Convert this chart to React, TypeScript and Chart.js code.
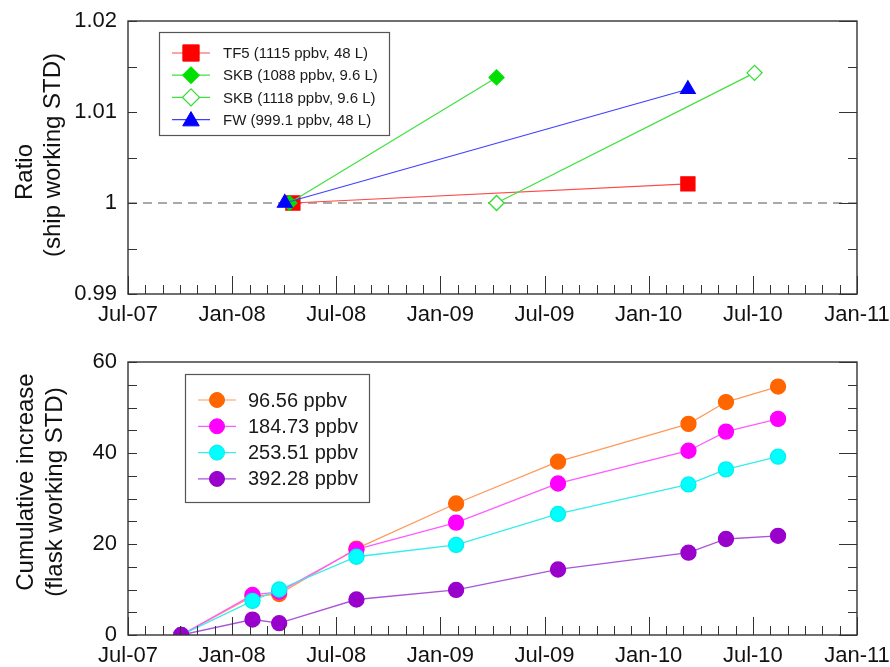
import React, { useEffect, useRef } from 'react';
import { Chart, registerables } from 'chart.js';

Chart.register(...registerables);

// ---------- data ----------
const xTickLabels = ['Jul-07', 'Jan-08', 'Jul-08', 'Jan-09', 'Jul-09', 'Jan-10', 'Jul-10', 'Jan-11'];
const xStartYear = 2007;
const xStartMonth = 7;
const xSpanMonths = 42;

const ratioTickLabels = ['0.99', '1', '1.01', '1.02'];
const ratioMin = 0.99;
const ratioMax = 1.02;
const refRatio = 1.0;

const cumTickLabels = ['0', '20', '40', '60'];
const cumMin = 0;
const cumMax = 60;

const tf5Label = 'TF5 (1115 ppbv, 48 L)';
const tf5Dates = ['2008-04-16', '2010-03-09'];
const tf5Ratio = [1.0, 1.0021];

const skb1088Label = 'SKB (1088 ppbv, 9.6 L)';
const skb1088Dates = ['2008-04-10', '2009-04-08'];
const skb1088Ratio = [1.0, 1.0138];

const skb1118Label = 'SKB (1118 ppbv, 9.6 L)';
const skb1118Dates = ['2009-04-08', '2010-07-04'];
const skb1118Ratio = [1.0, 1.0143];

const fwLabel = 'FW (999.1 ppbv, 48 L)';
const fwDates = ['2008-04-02', '2010-03-09'];
const fwRatio = [1.0, 1.0125];

const flaskDates = ['2007-10-03', '2008-02-06', '2008-03-23', '2008-08-06', '2009-01-29', '2009-07-25', '2010-03-10', '2010-05-15', '2010-08-15'];
const c96Label = '96.56 ppbv';
const c96 = [0, 8.5, 9.0, 19.0, 28.9, 38.1, 46.4, 51.2, 54.6];
const c184Label = '184.73 ppbv';
const c184 = [0, 8.8, 9.5, 18.8, 24.7, 33.3, 40.5, 44.7, 47.5];
const c253Label = '253.51 ppbv';
const c253 = [0, 7.5, 10.0, 17.2, 19.8, 26.6, 33.1, 36.4, 39.2];
const c392Label = '392.28 ppbv';
const c392 = [0, 3.4, 2.6, 7.8, 9.9, 14.4, 18.1, 21.1, 21.8];

// ---------- helpers ----------
function toMonths(s: string): number {
  const [y, m, d] = s.split('-').map(Number);
  const dim = new Date(y, m, 0).getDate();
  return (y - xStartYear) * 12 + (m - xStartMonth) + (d - 1) / dim;
}
function pts(dates: string[], vals: number[]) {
  return dates.map((d, i) => ({ x: toMonths(d), y: vals[i] }));
}

const FONT = '"Liberation Sans", Arial, sans-serif';

function markerPath(ctx: CanvasRenderingContext2D, style: string, x: number, y: number, r: number) {
  ctx.beginPath();
  if (style === 'rect') {
    const s = r * Math.SQRT1_2;
    ctx.rect(x - s, y - s, 2 * s, 2 * s);
  } else if (style === 'rectRot') {
    ctx.moveTo(x - r, y);
    ctx.lineTo(x, y - r);
    ctx.lineTo(x + r, y);
    ctx.lineTo(x, y + r);
    ctx.closePath();
  } else if (style === 'triangle') {
    const a = (2 * Math.PI) / 3;
    ctx.moveTo(x, y - r);
    ctx.lineTo(x + Math.sin(a) * r, y - Math.cos(a) * r);
    ctx.lineTo(x + Math.sin(2 * a) * r, y - Math.cos(2 * a) * r);
    ctx.closePath();
  } else {
    ctx.arc(x, y, r, 0, Math.PI * 2);
  }
}

const frameTicksPlugin = {
  id: 'frameTicks',
  afterDatasetsDraw(chart: any, _args: any, opts: any) {
    const { ctx, chartArea } = chart;
    const { left, right, top, bottom } = chartArea;
    const xs = chart.scales.x;
    const ys = chart.scales.y;
    ctx.save();
    ctx.strokeStyle = '#333';
    ctx.lineWidth = 1;
    const nx = Math.round((xs.max - xs.min) / opts.xMinor);
    for (let i = 0; i <= nx; i++) {
      const v = xs.min + i * opts.xMinor;
      const px = Math.round(xs.getPixelForValue(v)) + 0.5;
      const q = (i * opts.xMinor) / opts.xMajor;
      const major = Math.abs(q - Math.round(q)) < 1e-6;
      const len = major ? opts.majorLen : opts.minorLen;
      ctx.beginPath();
      ctx.moveTo(px, bottom);
      ctx.lineTo(px, bottom - len);
      ctx.stroke();
    }
    const ny = Math.round((ys.max - ys.min) / opts.yMinor);
    for (let i = 0; i <= ny; i++) {
      const v = ys.min + i * opts.yMinor;
      const py = Math.round(ys.getPixelForValue(v)) + 0.5;
      const q = (i * opts.yMinor) / opts.yMajor;
      const major = Math.abs(q - Math.round(q)) < 1e-6;
      ctx.beginPath();
      ctx.moveTo(left, py);
      ctx.lineTo(left + opts.minorLen, py);
      ctx.moveTo(right, py);
      ctx.lineTo(right - (major ? opts.majorLen : opts.minorLen), py);
      ctx.stroke();
    }
    ctx.lineWidth = 1.4;
    ctx.strokeStyle = '#333';
    ctx.strokeRect(left, top, right - left, bottom - top);
    ctx.restore();
  },
};

const boxLegendPlugin = {
  id: 'boxLegend',
  afterDraw(chart: any, _args: any, o: any) {
    const { ctx } = chart;
    const items = chart.data.datasets.filter((d: any) => d.label);
    ctx.save();
    ctx.fillStyle = '#ffffff';
    ctx.fillRect(o.x, o.y, o.w, o.h);
    ctx.strokeStyle = '#555';
    ctx.lineWidth = 1.2;
    ctx.strokeRect(o.x + 0.5, o.y + 0.5, o.w, o.h);
    items.forEach((d: any, i: number) => {
      const cy = o.row0 + i * o.rowGap;
      ctx.strokeStyle = d.borderColor;
      ctx.lineWidth = 1.2;
      ctx.beginPath();
      ctx.moveTo(o.lineX0, cy);
      ctx.lineTo(o.lineX1, cy);
      ctx.stroke();
      const mx = (o.lineX0 + o.lineX1) / 2;
      markerPath(ctx, d.pointStyle, mx, cy + (d.pointStyle === 'triangle' ? 1.5 : 0), o.markerR[d.pointStyle] || 8);
      ctx.fillStyle = d.pointBackgroundColor;
      ctx.fill();
      ctx.lineWidth = d.pointBorderWidth || 1;
      ctx.strokeStyle = d.pointBorderColor;
      ctx.stroke();
      ctx.fillStyle = '#1a1a1a';
      ctx.font = `${o.fontSize}px ${FONT}`;
      ctx.textBaseline = 'middle';
      ctx.textAlign = 'left';
      ctx.fillText(d.label, o.textX, cy + 1);
    });
    ctx.restore();
  },
};

const yTitlePlugin = {
  id: 'yTitle',
  afterDraw(chart: any, _args: any, o: any) {
    const { ctx } = chart;
    ctx.save();
    ctx.fillStyle = '#111';
    ctx.font = `${o.fontSize}px ${FONT}`;
    ctx.textAlign = 'center';
    ctx.textBaseline = 'middle';
    o.lines.forEach((l: any) => {
      ctx.save();
      ctx.translate(l.x, l.y);
      ctx.rotate(-Math.PI / 2);
      ctx.fillText(l.text, 0, 0);
      ctx.restore();
    });
    ctx.restore();
  },
};

function xScale(height: number) {
  return {
    type: 'linear',
    min: 0,
    max: xSpanMonths,
    grid: { display: false, drawTicks: false },
    border: { display: false },
    afterFit: (s: any) => {
      s.height = height;
      s.paddingLeft = 0;
      s.paddingRight = 0;
    },
    ticks: {
      stepSize: 6,
      autoSkip: false,
      maxRotation: 0,
      padding: 8,
      color: '#111',
      font: { family: FONT, size: 22 },
      callback: (v: number) => xTickLabels[Math.round(v / 6)] ?? '',
    },
  };
}

function yScale(min: number, max: number, step: number, labels: string[]) {
  return {
    type: 'linear',
    min,
    max,
    grid: { display: false, drawTicks: false },
    border: { display: false },
    afterFit: (s: any) => {
      s.width = 128;
      s.paddingTop = 0;
      s.paddingBottom = 0;
    },
    ticks: {
      stepSize: step,
      padding: 11,
      color: '#111',
      font: { family: FONT, size: 22 },
      callback: (v: number) => {
        const idx = Math.round((v - min) / step);
        return labels[idx] ?? '';
      },
    },
  };
}

export default function App() {
  const topRef = useRef<HTMLCanvasElement | null>(null);
  const botRef = useRef<HTMLCanvasElement | null>(null);

  useEffect(() => {
    const top = new Chart(topRef.current as HTMLCanvasElement, {
      type: 'line',
      data: {
        datasets: [
          {
            label: tf5Label, data: pts(tf5Dates, tf5Ratio), borderColor: '#ff4a4a', borderWidth: 1.2,
            pointStyle: 'rect', pointRadius: 10, pointBackgroundColor: '#ff0000', pointBorderColor: '#ff0000', order: 4,
          },
          {
            label: skb1088Label, data: pts(skb1088Dates, skb1088Ratio), borderColor: '#3fe03f', borderWidth: 1.2,
            pointStyle: 'rectRot', pointRadius: 7.5, pointBackgroundColor: '#00e000', pointBorderColor: '#00e000', order: 3,
          },
          {
            label: skb1118Label, data: pts(skb1118Dates, skb1118Ratio), borderColor: '#3fe03f', borderWidth: 1.2,
            pointStyle: 'rectRot', pointRadius: 7.5, pointBackgroundColor: '#ffffff', pointBorderColor: '#33dd33', pointBorderWidth: 1.3, order: 2,
          },
          {
            label: fwLabel, data: pts(fwDates, fwRatio), borderColor: '#4040ff', borderWidth: 1.2,
            pointStyle: 'triangle', pointRadius: 8.5, pointBackgroundColor: '#0000ff', pointBorderColor: '#0000ff', order: 1,
          },
          {
            label: '', data: [{ x: 0, y: refRatio }, { x: xSpanMonths, y: refRatio }], borderColor: '#555',
            borderWidth: 1.2, borderDash: [9, 6], pointRadius: 0, order: 10,
          },
        ],
      } as any,
      options: {
        animation: false,
        responsive: false,
        events: [],
        layout: { padding: { left: 0, top: 21, right: 33, bottom: 0 } },
        scales: {
          x: xScale(46),
          y: yScale(ratioMin, ratioMax, 0.01, ratioTickLabels),
        } as any,
        plugins: {
          legend: { display: false },
          tooltip: { enabled: false },
          frameTicks: { xMinor: 1, xMajor: 6, yMinor: 0.005, yMajor: 0.01, majorLen: 18, minorLen: 9 },
          boxLegend: {
            x: 159, y: 32, w: 230, h: 103, row0: 53, rowGap: 22.2, lineX0: 172, lineX1: 210, textX: 223,
            fontSize: 15, markerR: { rect: 11.5, rectRot: 8.5, triangle: 9.5, circle: 8 },
          },
          yTitle: {
            fontSize: 24,
            lines: [
              { text: 'Ratio', x: 25, y: 172 },
              { text: '(ship working STD)', x: 53, y: 155 },
            ],
          },
        } as any,
      },
      plugins: [frameTicksPlugin, boxLegendPlugin, yTitlePlugin] as any,
    });

    const bot = new Chart(botRef.current as HTMLCanvasElement, {
      type: 'line',
      data: {
        datasets: [
          {
            label: c96Label, data: pts(flaskDates, c96), borderColor: '#ff9a5c', borderWidth: 1.3,
            pointStyle: 'circle', pointRadius: 7.5, pointBackgroundColor: '#ff6600', pointBorderColor: '#ff6600', order: 4,
          },
          {
            label: c184Label, data: pts(flaskDates, c184), borderColor: '#ff5cff', borderWidth: 1.3,
            pointStyle: 'circle', pointRadius: 7.5, pointBackgroundColor: '#ff00ff', pointBorderColor: '#ff00ff', order: 3,
          },
          {
            label: c253Label, data: pts(flaskDates, c253), borderColor: '#33eded', borderWidth: 1.3,
            pointStyle: 'circle', pointRadius: 7.5, pointBackgroundColor: '#00ffff', pointBorderColor: '#00f0f0', order: 2,
          },
          {
            label: c392Label, data: pts(flaskDates, c392), borderColor: '#a955d9', borderWidth: 1.3,
            pointStyle: 'circle', pointRadius: 7.5, pointBackgroundColor: '#9900cc', pointBorderColor: '#9900cc', order: 1,
          },
        ],
      } as any,
      options: {
        animation: false,
        responsive: false,
        events: [],
        layout: { padding: { left: 0, top: 22, right: 33, bottom: 0 } },
        scales: {
          x: xScale(32),
          y: yScale(cumMin, cumMax, 20, cumTickLabels),
        } as any,
        plugins: {
          legend: { display: false },
          tooltip: { enabled: false },
          frameTicks: { xMinor: 1, xMajor: 6, yMinor: 5, yMajor: 20, majorLen: 18, minorLen: 9 },
          boxLegend: {
            x: 185, y: 34, w: 184, h: 128, row0: 60, rowGap: 26.3, lineX0: 198, lineX1: 236, textX: 248,
            fontSize: 20, markerR: { circle: 7.5 },
          },
          yTitle: {
            fontSize: 24,
            lines: [
              { text: 'Cumulative increase', x: 26, y: 142 },
              { text: '(flask working STD)', x: 55, y: 152 },
            ],
          },
        } as any,
      },
      plugins: [frameTicksPlugin, boxLegendPlugin, yTitlePlugin] as any,
    });

    return () => {
      top.destroy();
      bot.destroy();
    };
  }, []);

  return (
    <div style={{ position: 'absolute', left: 0, top: 0, width: 890, height: 667, background: '#fff', overflow: 'hidden' }}>
      <canvas ref={topRef} width={890} height={340} style={{ position: 'absolute', left: 0, top: 0, width: 890, height: 340 }} />
      <canvas ref={botRef} width={890} height={327} style={{ position: 'absolute', left: 0, top: 340, width: 890, height: 327 }} />
    </div>
  );
}
